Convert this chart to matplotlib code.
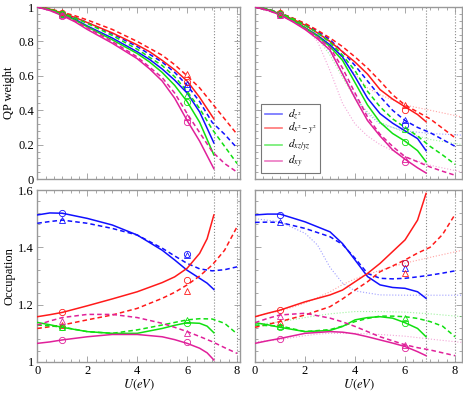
import matplotlib
matplotlib.use('Agg')
import matplotlib.pyplot as plt
from matplotlib.ticker import AutoMinorLocator, FormatStrFormatter

plt.rcParams['font.family'] = 'Liberation Serif'
plt.rcParams['mathtext.fontset'] = 'stix'
plt.rcParams['font.size'] = 9

orbitals = ['$d_{z^2}$', '$d_{x^2-y^2}$', '$d_{xz/yz}$', '$d_{xy}$']
colors = ['#1010ff', '#ff1a1a', '#10e010', '#e0209a']

# ---- QP weight, left panel
xs_ql = [0, 0.5, 1, 1.5, 2, 3, 4, 4.5, 5, 5.5, 6, 6.5, 7.07]
xd_ql = [0, 0.5, 1, 1.5, 2, 3, 4, 5, 5.5, 6, 6.5, 7, 7.5, 8]
qp_sol_l = [
    [1, 0.985, 0.96, 0.93, 0.89, 0.82, 0.74, 0.695, 0.64, 0.575, 0.50, 0.39, 0.21],
    [1, 0.988, 0.965, 0.94, 0.91, 0.85, 0.78, 0.74, 0.69, 0.635, 0.57, 0.475, 0.35],
    [1, 0.985, 0.96, 0.925, 0.885, 0.81, 0.73, 0.68, 0.62, 0.545, 0.45, 0.33, 0.14],
    [1, 0.98, 0.95, 0.915, 0.87, 0.79, 0.70, 0.64, 0.57, 0.47, 0.34, 0.22, 0.06],
]
qp_das_l = [
    [1, 0.988, 0.965, 0.94, 0.91, 0.845, 0.77, 0.68, 0.62, 0.545, 0.45, 0.33, 0.26, 0.18],
    [1, 0.99, 0.97, 0.95, 0.925, 0.87, 0.80, 0.72, 0.665, 0.60, 0.53, 0.44, 0.35, 0.26],
    [1, 0.988, 0.965, 0.937, 0.905, 0.835, 0.755, 0.66, 0.595, 0.51, 0.41, 0.29, 0.19, 0.09],
    [1, 0.982, 0.955, 0.92, 0.88, 0.80, 0.71, 0.59, 0.50, 0.38, 0.27, 0.16, 0.09, 0.04],
]
qp_circ_l = [[0.96, 0.53], [0.965, 0.565], [0.96, 0.45], [0.95, 0.33]]
qp_tri_l = [[0.965, 0.55], [0.97, 0.61], [0.965, 0.49], [0.955, 0.36]]

# ---- QP weight, right panel
xs_qr = [0, 0.5, 1, 1.5, 2, 2.5, 3, 3.5, 4, 4.5, 5, 5.5, 6, 6.5, 6.84]
xd_qr = [0, 0.5, 1, 1.5, 2, 2.5, 3, 3.5, 4, 4.5, 5, 5.5, 6, 6.5, 7, 7.5, 8]
xt_qr = [0, 1, 2, 2.5, 3, 3.5, 4, 4.5, 5, 6, 7, 8.3]
qp_sol_r = [
    [1, 0.985, 0.96, 0.925, 0.88, 0.835, 0.78, 0.71, 0.595, 0.47, 0.38, 0.325, 0.28, 0.235, 0.165],
    [1, 0.985, 0.96, 0.93, 0.895, 0.85, 0.80, 0.74, 0.68, 0.61, 0.52, 0.465, 0.42, 0.375, 0.333],
    [1, 0.985, 0.96, 0.925, 0.88, 0.83, 0.77, 0.69, 0.56, 0.43, 0.33, 0.265, 0.22, 0.165, 0.10],
    [1, 0.982, 0.955, 0.915, 0.87, 0.815, 0.75, 0.61, 0.47, 0.34, 0.25, 0.17, 0.115, 0.065, 0.035],
]
qp_das_r = [
    [1, 0.988, 0.965, 0.935, 0.90, 0.86, 0.81, 0.74, 0.66, 0.57, 0.48, 0.40, 0.34, 0.30, 0.27, 0.23, 0.19],
    [1, 0.988, 0.965, 0.937, 0.905, 0.865, 0.82, 0.77, 0.71, 0.645, 0.57, 0.49, 0.43, 0.39, 0.35, 0.295, 0.24],
    [1, 0.988, 0.965, 0.933, 0.895, 0.85, 0.795, 0.72, 0.63, 0.51, 0.42, 0.35, 0.30, 0.25, 0.19, 0.14, 0.085],
    [1, 0.982, 0.955, 0.918, 0.875, 0.825, 0.765, 0.645, 0.50, 0.36, 0.26, 0.19, 0.13, 0.10, 0.07, 0.045, 0.022],
]
qp_dot_r = [
    [1, 0.96, 0.88, 0.83, 0.74, 0.62, 0.48, 0.38, 0.32, 0.28, 0.265, 0.255],
    [1, 0.96, 0.89, 0.84, 0.78, 0.70, 0.61, 0.53, 0.49, 0.43, 0.40, 0.36],
    [1, 0.96, 0.88, 0.82, 0.72, 0.59, 0.47, 0.39, 0.33, 0.27, 0.23, 0.20],
    [1, 0.955, 0.88, 0.80, 0.63, 0.44, 0.32, 0.25, 0.20, 0.13, 0.08, 0.04],
]
qp_circ_r = [[0.96, 0.315], [0.965, 0.40], [0.96, 0.215], [0.955, 0.10]]
qp_tri_r = [[0.965, 0.345], [0.97, 0.43], [0.965, 0.29], [0.955, 0.115]]

# ---- occupation, left panel
xs_ol = [0, 0.5, 1, 2, 3, 4, 5, 5.5, 6, 6.5, 6.8, 7.07]
xd_ol = [0, 0.5, 1, 2, 3, 4, 5, 5.5, 6, 6.5, 7, 7.5, 8]
oc_sol_l = [
    [1.513, 1.52, 1.519, 1.501, 1.478, 1.443, 1.39, 1.356, 1.32, 1.292, 1.275, 1.253],
    [1.158, 1.165, 1.173, 1.196, 1.22, 1.245, 1.277, 1.297, 1.327, 1.379, 1.43, 1.513],
    [1.138, 1.13, 1.121, 1.106, 1.10, 1.10, 1.117, 1.128, 1.137, 1.135, 1.125, 1.102],
    [1.065, 1.07, 1.077, 1.088, 1.096, 1.096, 1.088, 1.078, 1.065, 1.048, 1.032, 1.007],
]
oc_das_l = [
    [1.484, 1.49, 1.495, 1.484, 1.466, 1.443, 1.397, 1.37, 1.344, 1.325, 1.318, 1.322, 1.332],
    [1.117, 1.123, 1.129, 1.147, 1.164, 1.187, 1.222, 1.243, 1.269, 1.30, 1.338, 1.39, 1.472],
    [1.129, 1.126, 1.122, 1.106, 1.10, 1.112, 1.129, 1.138, 1.147, 1.151, 1.15, 1.135, 1.098],
    [1.129, 1.143, 1.155, 1.166, 1.166, 1.155, 1.135, 1.121, 1.106, 1.089, 1.071, 1.05, 1.03],
]
oc_circ_l = [[1.52, 1.376], [1.173, 1.286], [1.121, 1.137], [1.077, 1.069]]
oc_tri_l = [[1.495, 1.374], [1.13, 1.249], [1.123, 1.147], [1.143, 1.10]]

# ---- occupation, right panel
xs_or = [0, 0.5, 1, 2, 3, 3.5, 4, 4.5, 5, 5.5, 6, 6.5, 6.84]
xd_or = [0, 0.5, 1, 2, 3, 3.5, 4, 4.5, 5, 5.5, 6, 6.5, 7, 7.5, 8]
xt_or = [0, 1, 2, 2.5, 3, 3.5, 4, 5, 6, 7, 8.3]
oc_sol_r = [
    [1.513, 1.516, 1.516, 1.489, 1.454, 1.413, 1.356, 1.298, 1.269, 1.26, 1.257, 1.245, 1.222],
    [1.158, 1.17, 1.181, 1.21, 1.234, 1.251, 1.28, 1.309, 1.344, 1.385, 1.426, 1.495, 1.588],
    [1.137, 1.13, 1.121, 1.106, 1.11, 1.124, 1.147, 1.155, 1.158, 1.153, 1.137, 1.117, 1.088],
    [1.065, 1.074, 1.082, 1.10, 1.106, 1.104, 1.098, 1.088, 1.077, 1.066, 1.054, 1.036, 1.022],
]
oc_das_r = [
    [1.487, 1.488, 1.487, 1.466, 1.437, 1.41, 1.362, 1.309, 1.292, 1.29, 1.292, 1.297, 1.303, 1.31, 1.318],
    [1.121, 1.131, 1.141, 1.164, 1.193, 1.22, 1.251, 1.28, 1.315, 1.335, 1.356, 1.38, 1.40, 1.445, 1.515],
    [1.129, 1.127, 1.126, 1.106, 1.113, 1.125, 1.141, 1.152, 1.16, 1.16, 1.158, 1.152, 1.141, 1.125, 1.088],
    [1.137, 1.152, 1.164, 1.17, 1.153, 1.14, 1.124, 1.106, 1.088, 1.074, 1.06, 1.05, 1.042, 1.032, 1.022],
]
oc_dot_r = [
    [1.50, 1.489, 1.449, 1.408, 1.33, 1.275, 1.248, 1.234, 1.233, 1.233, 1.233],
    [1.16, 1.178, 1.205, 1.225, 1.245, 1.27, 1.29, 1.32, 1.345, 1.365, 1.39],
    [1.13, 1.14, 1.155, 1.162, 1.168, 1.172, 1.176, 1.176, 1.174, 1.168, 1.158],
    [1.07, 1.078, 1.092, 1.097, 1.10, 1.10, 1.10, 1.096, 1.09, 1.08, 1.068],
]
oc_circ_r = [[1.513, 1.344], [1.18, 1.346], [1.121, 1.137], [1.08, 1.048]]
oc_tri_r = [[1.487, 1.327], [1.14, 1.311], [1.126, 1.155], [1.16, 1.06]]

marker_x = [1, 6]
vlines_l = [7.07, 8]
vlines_r = [6.84, 8]


def style_axes(ax, xmax, ylim, ymajor):
    ax.set_xlim(0, xmax)
    ax.set_ylim(*ylim)
    ax.set_xticks([0, 2, 4, 6, 8])
    ax.set_yticks(ymajor)
    ax.xaxis.set_minor_locator(AutoMinorLocator(6))
    ax.yaxis.set_minor_locator(AutoMinorLocator(5))
    ax.tick_params(which='both', direction='in', top=True, right=True,
                   color='#999999', width=0.6, pad=2.5)
    ax.tick_params(which='major', length=4)
    ax.tick_params(which='minor', length=2)
    for sp in ax.spines.values():
        sp.set_color('#999999')
        sp.set_linewidth(1.0)


def draw(ax, xs, sol, xd, das, circ, tri, xt=None, dot=None, vl=()):
    for v in vl:
        ax.axvline(v, color='#888888', ls=':', lw=0.8, zorder=1)
    for i, c in enumerate(colors):
        ax.plot(xs, sol[i], color=c, lw=1.1, zorder=3)
        ax.plot(xd, das[i], color=c, lw=1.1, ls=(0, (3, 2)), zorder=3)
        if dot is not None:
            ax.plot(xt, dot[i], color=c, lw=0.8, ls=':', alpha=0.4, zorder=2)
        ax.plot(marker_x, circ[i], ls='none', marker='o', ms=4.5,
                mfc='none', mec=c, mew=0.6, zorder=4)
        ax.plot(marker_x, tri[i], ls='none', marker='^', ms=4.5,
                mfc='none', mec=c, mew=0.6, zorder=4)


fig = plt.figure(figsize=(4.63, 3.93), dpi=100)
ax_tl = fig.add_axes([0.0806, 0.5445, 0.4374, 0.4375])
ax_tr = fig.add_axes([0.5508, 0.5445, 0.4472, 0.4375])
ax_bl = fig.add_axes([0.0806, 0.0789, 0.4374, 0.4376])
ax_br = fig.add_axes([0.5508, 0.0789, 0.4472, 0.4376])

draw(ax_tl, xs_ql, qp_sol_l, xd_ql, qp_das_l, qp_circ_l, qp_tri_l, vl=vlines_l)
draw(ax_tr, xs_qr, qp_sol_r, xd_qr, qp_das_r, qp_circ_r, qp_tri_r,
     xt_qr, qp_dot_r, vl=vlines_r)
draw(ax_bl, xs_ol, oc_sol_l, xd_ol, oc_das_l, oc_circ_l, oc_tri_l, vl=vlines_l)
draw(ax_br, xs_or, oc_sol_r, xd_or, oc_das_r, oc_circ_r, oc_tri_r,
     xt_or, oc_dot_r, vl=vlines_r)

style_axes(ax_tl, 8.11, (0, 1), [0, 0.2, 0.4, 0.6, 0.8, 1])
style_axes(ax_tr, 8.28, (0, 1), [0, 0.2, 0.4, 0.6, 0.8, 1])
style_axes(ax_bl, 8.11, (1, 1.6), [1, 1.2, 1.4, 1.6])
style_axes(ax_br, 8.28, (1, 1.6), [1, 1.2, 1.4, 1.6])

for ax in (ax_tl, ax_bl):
    ax.yaxis.set_major_formatter(FormatStrFormatter('%g'))
for ax in (ax_tr, ax_br):
    ax.set_yticklabels([])
for ax in (ax_tl, ax_tr):
    ax.set_xticklabels([])
for ax in (ax_bl, ax_br):
    ax.set_xlabel('$U(eV)$', labelpad=0)

ax_tl.set_ylabel('QP weight')
ax_bl.set_ylabel('Occupation')
ax_tl.yaxis.set_label_coords(-0.11, 0.5)
ax_bl.yaxis.set_label_coords(-0.11, 0.5)

handles = [plt.Line2D([], [], color=c, lw=1.2, alpha=0.6) for c in colors]
leg = ax_tr.legend(handles, orbitals, loc='lower left',
                   bbox_to_anchor=(0.03, 0.035), fancybox=False,
                   edgecolor='#777777', framealpha=1, fontsize=8,
                   handlelength=1.6, handletextpad=0.5, borderpad=0.3,
                   labelspacing=0.0, handleheight=0.5, borderaxespad=0)
leg.get_frame().set_linewidth(0.8)

fig.savefig('out.png', dpi=100)
